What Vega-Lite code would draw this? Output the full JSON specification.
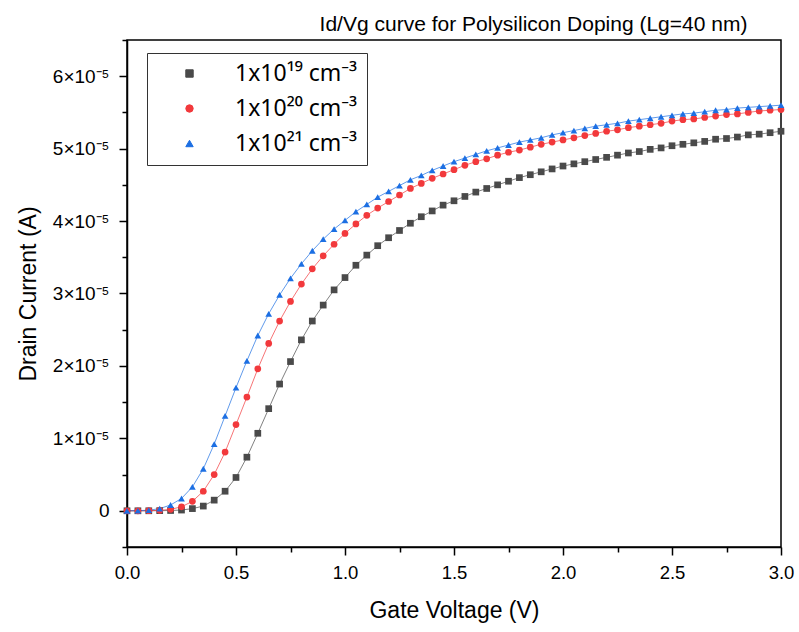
{
  "$schema": "https://vega.github.io/schema/vega-lite/v6.json",
  "autosize": "none",
  "width": 654,
  "height": 507,
  "padding": {"left": 127, "top": 40, "right": 18, "bottom": 85},
  "background": "white",
  "config": {
    "view": {"stroke": "black", "strokeWidth": 1.5},
    "font": "Liberation Sans"
  },
  "resolve": {"axis": {"x": "independent"}},
  "datasets": {
    "d": [
      {"V": 0.00, "s": "1x10¹⁹ cm⁻³", "I": 0.0},
      {"V": 0.05, "s": "1x10¹⁹ cm⁻³", "I": 0.0},
      {"V": 0.10, "s": "1x10¹⁹ cm⁻³", "I": 0.0},
      {"V": 0.15, "s": "1x10¹⁹ cm⁻³", "I": 0.002e-5},
      {"V": 0.20, "s": "1x10¹⁹ cm⁻³", "I": 0.004e-5},
      {"V": 0.25, "s": "1x10¹⁹ cm⁻³", "I": 0.010e-5},
      {"V": 0.30, "s": "1x10¹⁹ cm⁻³", "I": 0.03e-5},
      {"V": 0.35, "s": "1x10¹⁹ cm⁻³", "I": 0.065e-5},
      {"V": 0.40, "s": "1x10¹⁹ cm⁻³", "I": 0.147e-5},
      {"V": 0.45, "s": "1x10¹⁹ cm⁻³", "I": 0.27e-5},
      {"V": 0.50, "s": "1x10¹⁹ cm⁻³", "I": 0.46e-5},
      {"V": 0.55, "s": "1x10¹⁹ cm⁻³", "I": 0.74e-5},
      {"V": 0.60, "s": "1x10¹⁹ cm⁻³", "I": 1.07e-5},
      {"V": 0.65, "s": "1x10¹⁹ cm⁻³", "I": 1.41e-5},
      {"V": 0.70, "s": "1x10¹⁹ cm⁻³", "I": 1.75e-5},
      {"V": 0.75, "s": "1x10¹⁹ cm⁻³", "I": 2.06e-5},
      {"V": 0.80, "s": "1x10¹⁹ cm⁻³", "I": 2.36e-5},
      {"V": 0.85, "s": "1x10¹⁹ cm⁻³", "I": 2.62e-5},
      {"V": 0.90, "s": "1x10¹⁹ cm⁻³", "I": 2.84e-5},
      {"V": 0.95, "s": "1x10¹⁹ cm⁻³", "I": 3.05e-5},
      {"V": 1.00, "s": "1x10¹⁹ cm⁻³", "I": 3.22e-5},
      {"V": 1.05, "s": "1x10¹⁹ cm⁻³", "I": 3.39e-5},
      {"V": 1.10, "s": "1x10¹⁹ cm⁻³", "I": 3.53e-5},
      {"V": 1.15, "s": "1x10¹⁹ cm⁻³", "I": 3.66e-5},
      {"V": 1.20, "s": "1x10¹⁹ cm⁻³", "I": 3.77e-5},
      {"V": 1.25, "s": "1x10¹⁹ cm⁻³", "I": 3.87e-5},
      {"V": 1.30, "s": "1x10¹⁹ cm⁻³", "I": 3.97e-5},
      {"V": 1.35, "s": "1x10¹⁹ cm⁻³", "I": 4.06e-5},
      {"V": 1.40, "s": "1x10¹⁹ cm⁻³", "I": 4.14e-5},
      {"V": 1.45, "s": "1x10¹⁹ cm⁻³", "I": 4.22e-5},
      {"V": 1.50, "s": "1x10¹⁹ cm⁻³", "I": 4.28e-5},
      {"V": 1.55, "s": "1x10¹⁹ cm⁻³", "I": 4.34e-5},
      {"V": 1.60, "s": "1x10¹⁹ cm⁻³", "I": 4.40e-5},
      {"V": 1.65, "s": "1x10¹⁹ cm⁻³", "I": 4.45e-5},
      {"V": 1.70, "s": "1x10¹⁹ cm⁻³", "I": 4.50e-5},
      {"V": 1.75, "s": "1x10¹⁹ cm⁻³", "I": 4.55e-5},
      {"V": 1.80, "s": "1x10¹⁹ cm⁻³", "I": 4.60e-5},
      {"V": 1.85, "s": "1x10¹⁹ cm⁻³", "I": 4.64e-5},
      {"V": 1.90, "s": "1x10¹⁹ cm⁻³", "I": 4.68e-5},
      {"V": 1.95, "s": "1x10¹⁹ cm⁻³", "I": 4.72e-5},
      {"V": 2.00, "s": "1x10¹⁹ cm⁻³", "I": 4.76e-5},
      {"V": 2.05, "s": "1x10¹⁹ cm⁻³", "I": 4.79e-5},
      {"V": 2.10, "s": "1x10¹⁹ cm⁻³", "I": 4.82e-5},
      {"V": 2.15, "s": "1x10¹⁹ cm⁻³", "I": 4.85e-5},
      {"V": 2.20, "s": "1x10¹⁹ cm⁻³", "I": 4.88e-5},
      {"V": 2.25, "s": "1x10¹⁹ cm⁻³", "I": 4.91e-5},
      {"V": 2.30, "s": "1x10¹⁹ cm⁻³", "I": 4.94e-5},
      {"V": 2.35, "s": "1x10¹⁹ cm⁻³", "I": 4.96e-5},
      {"V": 2.40, "s": "1x10¹⁹ cm⁻³", "I": 4.99e-5},
      {"V": 2.45, "s": "1x10¹⁹ cm⁻³", "I": 5.01e-5},
      {"V": 2.50, "s": "1x10¹⁹ cm⁻³", "I": 5.04e-5},
      {"V": 2.55, "s": "1x10¹⁹ cm⁻³", "I": 5.06e-5},
      {"V": 2.60, "s": "1x10¹⁹ cm⁻³", "I": 5.08e-5},
      {"V": 2.65, "s": "1x10¹⁹ cm⁻³", "I": 5.10e-5},
      {"V": 2.70, "s": "1x10¹⁹ cm⁻³", "I": 5.13e-5},
      {"V": 2.75, "s": "1x10¹⁹ cm⁻³", "I": 5.14e-5},
      {"V": 2.80, "s": "1x10¹⁹ cm⁻³", "I": 5.16e-5},
      {"V": 2.85, "s": "1x10¹⁹ cm⁻³", "I": 5.19e-5},
      {"V": 2.90, "s": "1x10¹⁹ cm⁻³", "I": 5.20e-5},
      {"V": 2.95, "s": "1x10¹⁹ cm⁻³", "I": 5.22e-5},
      {"V": 3.00, "s": "1x10¹⁹ cm⁻³", "I": 5.24e-5},

      {"V": 0.00, "s": "1x10²⁰ cm⁻³", "I": 0.0},
      {"V": 0.05, "s": "1x10²⁰ cm⁻³", "I": 0.0},
      {"V": 0.10, "s": "1x10²⁰ cm⁻³", "I": 0.002e-5},
      {"V": 0.15, "s": "1x10²⁰ cm⁻³", "I": 0.006e-5},
      {"V": 0.20, "s": "1x10²⁰ cm⁻³", "I": 0.02e-5},
      {"V": 0.25, "s": "1x10²⁰ cm⁻³", "I": 0.055e-5},
      {"V": 0.30, "s": "1x10²⁰ cm⁻³", "I": 0.13e-5},
      {"V": 0.35, "s": "1x10²⁰ cm⁻³", "I": 0.27e-5},
      {"V": 0.40, "s": "1x10²⁰ cm⁻³", "I": 0.50e-5},
      {"V": 0.45, "s": "1x10²⁰ cm⁻³", "I": 0.81e-5},
      {"V": 0.50, "s": "1x10²⁰ cm⁻³", "I": 1.19e-5},
      {"V": 0.55, "s": "1x10²⁰ cm⁻³", "I": 1.57e-5},
      {"V": 0.60, "s": "1x10²⁰ cm⁻³", "I": 1.96e-5},
      {"V": 0.65, "s": "1x10²⁰ cm⁻³", "I": 2.31e-5},
      {"V": 0.70, "s": "1x10²⁰ cm⁻³", "I": 2.62e-5},
      {"V": 0.75, "s": "1x10²⁰ cm⁻³", "I": 2.89e-5},
      {"V": 0.80, "s": "1x10²⁰ cm⁻³", "I": 3.13e-5},
      {"V": 0.85, "s": "1x10²⁰ cm⁻³", "I": 3.34e-5},
      {"V": 0.90, "s": "1x10²⁰ cm⁻³", "I": 3.52e-5},
      {"V": 0.95, "s": "1x10²⁰ cm⁻³", "I": 3.68e-5},
      {"V": 1.00, "s": "1x10²⁰ cm⁻³", "I": 3.83e-5},
      {"V": 1.05, "s": "1x10²⁰ cm⁻³", "I": 3.96e-5},
      {"V": 1.10, "s": "1x10²⁰ cm⁻³", "I": 4.08e-5},
      {"V": 1.15, "s": "1x10²⁰ cm⁻³", "I": 4.18e-5},
      {"V": 1.20, "s": "1x10²⁰ cm⁻³", "I": 4.27e-5},
      {"V": 1.25, "s": "1x10²⁰ cm⁻³", "I": 4.36e-5},
      {"V": 1.30, "s": "1x10²⁰ cm⁻³", "I": 4.45e-5},
      {"V": 1.35, "s": "1x10²⁰ cm⁻³", "I": 4.52e-5},
      {"V": 1.40, "s": "1x10²⁰ cm⁻³", "I": 4.59e-5},
      {"V": 1.45, "s": "1x10²⁰ cm⁻³", "I": 4.65e-5},
      {"V": 1.50, "s": "1x10²⁰ cm⁻³", "I": 4.71e-5},
      {"V": 1.55, "s": "1x10²⁰ cm⁻³", "I": 4.77e-5},
      {"V": 1.60, "s": "1x10²⁰ cm⁻³", "I": 4.82e-5},
      {"V": 1.65, "s": "1x10²⁰ cm⁻³", "I": 4.86e-5},
      {"V": 1.70, "s": "1x10²⁰ cm⁻³", "I": 4.91e-5},
      {"V": 1.75, "s": "1x10²⁰ cm⁻³", "I": 4.95e-5},
      {"V": 1.80, "s": "1x10²⁰ cm⁻³", "I": 4.98e-5},
      {"V": 1.85, "s": "1x10²⁰ cm⁻³", "I": 5.02e-5},
      {"V": 1.90, "s": "1x10²⁰ cm⁻³", "I": 5.06e-5},
      {"V": 1.95, "s": "1x10²⁰ cm⁻³", "I": 5.09e-5},
      {"V": 2.00, "s": "1x10²⁰ cm⁻³", "I": 5.12e-5},
      {"V": 2.05, "s": "1x10²⁰ cm⁻³", "I": 5.15e-5},
      {"V": 2.10, "s": "1x10²⁰ cm⁻³", "I": 5.18e-5},
      {"V": 2.15, "s": "1x10²⁰ cm⁻³", "I": 5.21e-5},
      {"V": 2.20, "s": "1x10²⁰ cm⁻³", "I": 5.24e-5},
      {"V": 2.25, "s": "1x10²⁰ cm⁻³", "I": 5.26e-5},
      {"V": 2.30, "s": "1x10²⁰ cm⁻³", "I": 5.29e-5},
      {"V": 2.35, "s": "1x10²⁰ cm⁻³", "I": 5.31e-5},
      {"V": 2.40, "s": "1x10²⁰ cm⁻³", "I": 5.33e-5},
      {"V": 2.45, "s": "1x10²⁰ cm⁻³", "I": 5.35e-5},
      {"V": 2.50, "s": "1x10²⁰ cm⁻³", "I": 5.38e-5},
      {"V": 2.55, "s": "1x10²⁰ cm⁻³", "I": 5.40e-5},
      {"V": 2.60, "s": "1x10²⁰ cm⁻³", "I": 5.41e-5},
      {"V": 2.65, "s": "1x10²⁰ cm⁻³", "I": 5.43e-5},
      {"V": 2.70, "s": "1x10²⁰ cm⁻³", "I": 5.45e-5},
      {"V": 2.75, "s": "1x10²⁰ cm⁻³", "I": 5.47e-5},
      {"V": 2.80, "s": "1x10²⁰ cm⁻³", "I": 5.48e-5},
      {"V": 2.85, "s": "1x10²⁰ cm⁻³", "I": 5.50e-5},
      {"V": 2.90, "s": "1x10²⁰ cm⁻³", "I": 5.52e-5},
      {"V": 2.95, "s": "1x10²⁰ cm⁻³", "I": 5.53e-5},
      {"V": 3.00, "s": "1x10²⁰ cm⁻³", "I": 5.54e-5},

      {"V": 0.00, "s": "1x10²¹ cm⁻³", "I": 0.0},
      {"V": 0.05, "s": "1x10²¹ cm⁻³", "I": 0.002e-5},
      {"V": 0.10, "s": "1x10²¹ cm⁻³", "I": 0.008e-5},
      {"V": 0.15, "s": "1x10²¹ cm⁻³", "I": 0.03e-5},
      {"V": 0.20, "s": "1x10²¹ cm⁻³", "I": 0.08e-5},
      {"V": 0.25, "s": "1x10²¹ cm⁻³", "I": 0.17e-5},
      {"V": 0.30, "s": "1x10²¹ cm⁻³", "I": 0.33e-5},
      {"V": 0.35, "s": "1x10²¹ cm⁻³", "I": 0.58e-5},
      {"V": 0.40, "s": "1x10²¹ cm⁻³", "I": 0.92e-5},
      {"V": 0.45, "s": "1x10²¹ cm⁻³", "I": 1.31e-5},
      {"V": 0.50, "s": "1x10²¹ cm⁻³", "I": 1.70e-5},
      {"V": 0.55, "s": "1x10²¹ cm⁻³", "I": 2.07e-5},
      {"V": 0.60, "s": "1x10²¹ cm⁻³", "I": 2.42e-5},
      {"V": 0.65, "s": "1x10²¹ cm⁻³", "I": 2.72e-5},
      {"V": 0.70, "s": "1x10²¹ cm⁻³", "I": 2.98e-5},
      {"V": 0.75, "s": "1x10²¹ cm⁻³", "I": 3.21e-5},
      {"V": 0.80, "s": "1x10²¹ cm⁻³", "I": 3.41e-5},
      {"V": 0.85, "s": "1x10²¹ cm⁻³", "I": 3.59e-5},
      {"V": 0.90, "s": "1x10²¹ cm⁻³", "I": 3.75e-5},
      {"V": 0.95, "s": "1x10²¹ cm⁻³", "I": 3.89e-5},
      {"V": 1.00, "s": "1x10²¹ cm⁻³", "I": 4.01e-5},
      {"V": 1.05, "s": "1x10²¹ cm⁻³", "I": 4.13e-5},
      {"V": 1.10, "s": "1x10²¹ cm⁻³", "I": 4.23e-5},
      {"V": 1.15, "s": "1x10²¹ cm⁻³", "I": 4.33e-5},
      {"V": 1.20, "s": "1x10²¹ cm⁻³", "I": 4.41e-5},
      {"V": 1.25, "s": "1x10²¹ cm⁻³", "I": 4.49e-5},
      {"V": 1.30, "s": "1x10²¹ cm⁻³", "I": 4.57e-5},
      {"V": 1.35, "s": "1x10²¹ cm⁻³", "I": 4.63e-5},
      {"V": 1.40, "s": "1x10²¹ cm⁻³", "I": 4.70e-5},
      {"V": 1.45, "s": "1x10²¹ cm⁻³", "I": 4.76e-5},
      {"V": 1.50, "s": "1x10²¹ cm⁻³", "I": 4.82e-5},
      {"V": 1.55, "s": "1x10²¹ cm⁻³", "I": 4.87e-5},
      {"V": 1.60, "s": "1x10²¹ cm⁻³", "I": 4.92e-5},
      {"V": 1.65, "s": "1x10²¹ cm⁻³", "I": 4.97e-5},
      {"V": 1.70, "s": "1x10²¹ cm⁻³", "I": 5.01e-5},
      {"V": 1.75, "s": "1x10²¹ cm⁻³", "I": 5.05e-5},
      {"V": 1.80, "s": "1x10²¹ cm⁻³", "I": 5.09e-5},
      {"V": 1.85, "s": "1x10²¹ cm⁻³", "I": 5.12e-5},
      {"V": 1.90, "s": "1x10²¹ cm⁻³", "I": 5.15e-5},
      {"V": 1.95, "s": "1x10²¹ cm⁻³", "I": 5.19e-5},
      {"V": 2.00, "s": "1x10²¹ cm⁻³", "I": 5.22e-5},
      {"V": 2.05, "s": "1x10²¹ cm⁻³", "I": 5.25e-5},
      {"V": 2.10, "s": "1x10²¹ cm⁻³", "I": 5.28e-5},
      {"V": 2.15, "s": "1x10²¹ cm⁻³", "I": 5.31e-5},
      {"V": 2.20, "s": "1x10²¹ cm⁻³", "I": 5.33e-5},
      {"V": 2.25, "s": "1x10²¹ cm⁻³", "I": 5.35e-5},
      {"V": 2.30, "s": "1x10²¹ cm⁻³", "I": 5.38e-5},
      {"V": 2.35, "s": "1x10²¹ cm⁻³", "I": 5.40e-5},
      {"V": 2.40, "s": "1x10²¹ cm⁻³", "I": 5.42e-5},
      {"V": 2.45, "s": "1x10²¹ cm⁻³", "I": 5.44e-5},
      {"V": 2.50, "s": "1x10²¹ cm⁻³", "I": 5.46e-5},
      {"V": 2.55, "s": "1x10²¹ cm⁻³", "I": 5.48e-5},
      {"V": 2.60, "s": "1x10²¹ cm⁻³", "I": 5.49e-5},
      {"V": 2.65, "s": "1x10²¹ cm⁻³", "I": 5.51e-5},
      {"V": 2.70, "s": "1x10²¹ cm⁻³", "I": 5.53e-5},
      {"V": 2.75, "s": "1x10²¹ cm⁻³", "I": 5.54e-5},
      {"V": 2.80, "s": "1x10²¹ cm⁻³", "I": 5.56e-5},
      {"V": 2.85, "s": "1x10²¹ cm⁻³", "I": 5.57e-5},
      {"V": 2.90, "s": "1x10²¹ cm⁻³", "I": 5.58e-5},
      {"V": 2.95, "s": "1x10²¹ cm⁻³", "I": 5.59e-5},
      {"V": 3.00, "s": "1x10²¹ cm⁻³", "I": 5.60e-5}
    ]
  },
  "data": {"name": "d"},
  "encoding": {
    "x": {
      "field": "V",
      "type": "quantitative",
      "scale": {"domain": [0, 3], "nice": false, "zero": false},
      "axis": {
        "title": "Gate Voltage (V)",
        "titleFontSize": 23,
        "titleFontWeight": "normal",
        "titleFont": "Liberation Sans",
        "titleColor": "black",
        "titlePadding": 18,
        "values": [0, 0.25, 0.5, 0.75, 1, 1.25, 1.5, 1.75, 2, 2.25, 2.5, 2.75, 3],
        "labelExpr": "abs(datum.value*2 - round(datum.value*2)) > 0.01 ? '' : format(datum.value, '.1f')",
        "labelFont": "Liberation Sans",
        "labelFontSize": 18.5,
        "labelColor": "black",
        "labelPadding": 8,
        "labelFlush": false,
        "labelOverlap": false,
        "grid": false,
        "domainColor": "black",
        "domainWidth": 1.5,
        "tickColor": "black",
        "tickWidth": 1.5,
        "tickSize": {"condition": {"test": "abs(datum.value*2 - round(datum.value*2)) > 0.01", "value": 5}, "value": 8}
      }
    },
    "y": {
      "field": "I",
      "type": "quantitative",
      "scale": {"domain": [-0.5e-5, 6.5e-5], "nice": false, "zero": false},
      "axis": {
        "title": "Drain Current (A)",
        "titleFontSize": 23,
        "titleFontWeight": "normal",
        "titleFont": "Liberation Sans",
        "titleColor": "black",
        "titlePadding": 12,
        "values": [-0.5e-5, 0, 0.5e-5, 1e-5, 1.5e-5, 2e-5, 2.5e-5, 3e-5, 3.5e-5, 4e-5, 4.5e-5, 5e-5, 5.5e-5, 6e-5, 6.5e-5],
        "labelExpr": "round(datum.value*2e5) % 2 != 0 ? '' : (round(datum.value*1e5) == 0 ? '0' : round(datum.value*1e5) + '×10⁻⁵')",
        "labelFont": "Liberation Sans",
        "labelFontSize": 19,
        "labelColor": "black",
        "labelPadding": 10,
        "labelFlush": false,
        "labelOverlap": false,
        "grid": false,
        "domainColor": "black",
        "domainWidth": 1.5,
        "tickColor": "black",
        "tickWidth": 1.5,
        "tickSize": {"condition": {"test": "round(datum.value*2e5) % 2 != 0", "value": 5}, "value": 8}
      }
    },
    "color": {
      "field": "s",
      "type": "nominal",
      "scale": {
        "domain": ["1x10¹⁹ cm⁻³", "1x10²⁰ cm⁻³", "1x10²¹ cm⁻³"],
        "range": ["#4a4a4a", "#f2393c", "#1c6fe3"]
      },
      "legend": {
        "title": null,
        "orient": "none",
        "legendX": 20,
        "legendY": 13,
        "direction": "vertical",
        "labelFontSize": 23,
        "labelFont": "Noto Sans",
        "labelColor": "black",
        "labelLimit": 300,
        "symbolSize": 55,
        "symbolOpacity": 1,
        "symbolStrokeWidth": 1,
        "symbolOffset": 22,
        "rowPadding": 11,
        "labelOffset": 34,
        "padding": 9,
        "strokeColor": "#333",
        "fillColor": "white"
      }
    }
  },
  "layer": [
    {
      "mark": {"type": "line", "strokeWidth": 1, "opacity": 0.7}
    },
    {
      "mark": {"type": "point", "filled": true, "opacity": 1, "size": 45},
      "encoding": {
        "x": {
          "field": "V",
          "type": "quantitative",
          "axis": {
            "orient": "top",
            "title": "Id/Vg curve for Polysilicon Doping (Lg=40 nm)",
            "titleFontSize": 21,
            "titleFontWeight": "normal",
            "titleFont": "Liberation Sans",
            "titleColor": "black",
            "titlePadding": 6,
            "titleX": 406,
            "titleAlign": "center",
            "labels": false,
            "ticks": false,
            "domain": false,
            "grid": false
          }
        },
        "shape": {
          "field": "s",
          "type": "nominal",
          "scale": {
            "domain": ["1x10¹⁹ cm⁻³", "1x10²⁰ cm⁻³", "1x10²¹ cm⁻³"],
            "range": ["square", "circle", "triangle-up"]
          },
          "legend": {
            "title": null,
            "orient": "none",
            "legendX": 20,
            "legendY": 13,
            "direction": "vertical",
            "labelFontSize": 23,
            "labelFont": "Noto Sans",
            "labelColor": "black",
            "labelLimit": 300,
            "symbolSize": 55,
            "symbolOpacity": 1,
            "symbolStrokeWidth": 1,
            "symbolOffset": 22,
            "rowPadding": 11,
            "labelOffset": 34,
            "padding": 9,
            "strokeColor": "#333",
            "fillColor": "white"
          }
        }
      }
    }
  ]
}
